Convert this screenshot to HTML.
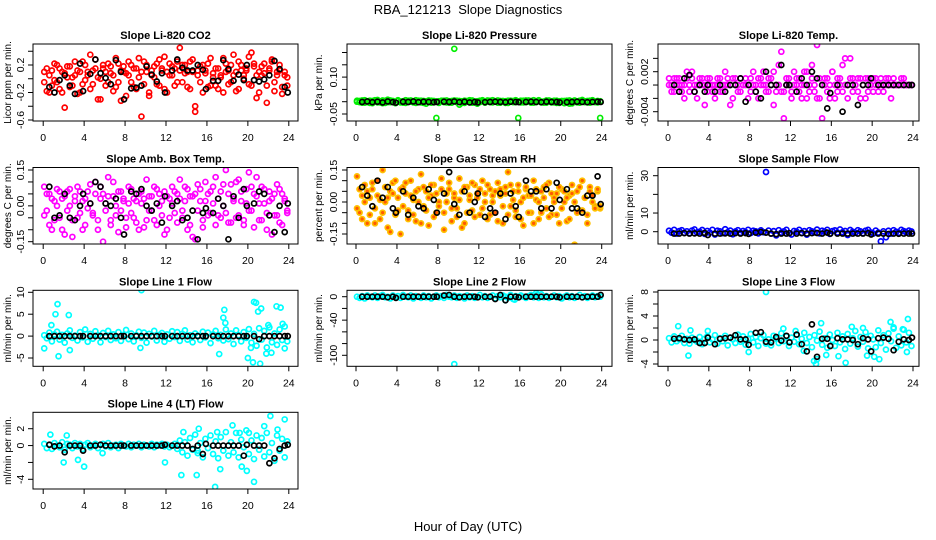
<!DOCTYPE html>
<html><head><meta charset="utf-8"><title>RBA_121213 Slope Diagnostics</title>
<style>
html,body{margin:0;padding:0;background:#fff;}
svg{display:block;font-family:"Liberation Sans",Arial,sans-serif;}
</style></head>
<body>
<svg id="chart" width="936" height="540" viewBox="0 0 936 540" xmlns="http://www.w3.org/2000/svg">
<text x="468" y="14" text-anchor="middle" font-size="13">RBA_121213&#160; Slope Diagnostics</text>
<text x="468" y="531" text-anchor="middle" font-size="13">Hour of Day (UTC)</text>
</svg>
<script>
// ---- shared sample hours ----
const hours = [0.1,0.35,0.6,0.85,1.1,1.35,1.6,1.85,2.1,2.35,2.6,2.85,3.1,3.35,3.6,3.85,4.1,4.35,4.6,4.85,5.1,5.35,5.6,5.85,6.1,6.35,6.6,6.85,7.1,7.35,7.6,7.85,8.1,8.35,8.6,8.85,9.1,9.35,9.6,9.85,10.1,10.35,10.6,10.85,11.1,11.35,11.6,11.85,12.1,12.35,12.6,12.85,13.1,13.35,13.6,13.85,14.1,14.35,14.6,14.85,15.1,15.35,15.6,15.85,16.1,16.35,16.6,16.85,17.1,17.35,17.6,17.85,18.1,18.35,18.6,18.85,19.1,19.35,19.6,19.85,20.1,20.35,20.6,20.85,21.1,21.35,21.6,21.85,22.1,22.35,22.6,22.85,23.1,23.35,23.6,23.85];
const blackHours = [0.6,1.1,1.6,2.1,2.6,3.1,3.6,3.9,4.6,5.1,5.6,6.1,6.6,7.1,7.6,7.9,8.6,9.1,9.6,10.1,10.6,11.1,11.6,11.9,12.6,13.1,13.6,14.1,14.6,15.1,15.6,15.9,16.6,17.1,17.6,18.1,18.6,19.1,19.6,19.9,20.6,21.1,21.6,22.1,22.6,23.1,23.6,23.9];
const xTicks = [0,4,8,12,16,20,24];

// ---- CO2 ----
const co2A = [0.1,-0.18,0.05,-0.1,0.22,-0.05,0.15,-0.2,0.08,0.18,-0.12,0.02,0.25,-0.22,0.1,-0.08,0.2,0.05,-0.15,0.12,0.28,-0.3,0.0,0.15,-0.1,0.22,0.08,-0.18,0.3,-0.05,0.12,0.18,-0.25,0.05,0.2,-0.12,0.15,0.02,-0.55,0.25,0.1,-0.2,0.05,0.18,-0.08,0.28,0.12,-0.15,0.1,0.22,0.05,0.15,-0.05,0.45,0.2,0.08,-0.12,0.25,0.1,-0.4,0.05,0.18,-0.2,0.12,0.22,-0.1,0.08,0.15,-0.15,0.02,0.3,0.1,-0.08,0.2,0.05,-0.18,0.25,0.12,0.0,0.15,0.32,-0.1,0.22,0.05,-0.2,0.18,0.08,-0.35,0.12,0.25,-0.05,0.1,0.2,-0.12,0.05,-0.1];
const co2B = [-0.05,0.15,-0.2,0.12,-0.02,0.2,-0.15,0.1,-0.42,0.02,0.18,-0.1,0.05,0.12,-0.2,0.25,-0.02,0.1,0.35,-0.08,0.15,0.02,-0.3,0.2,0.1,-0.05,0.18,0.05,-0.12,0.22,-0.32,0.1,0.08,0.25,-0.05,0.15,-0.15,0.3,0.1,-0.08,0.2,-0.25,0.12,0.02,0.22,-0.1,0.15,0.32,-0.2,0.05,0.18,-0.1,0.25,0.12,-0.05,0.2,0.1,-0.15,0.28,-0.48,0.12,-0.05,0.2,0.08,-0.12,0.3,0.02,-0.1,0.15,0.05,-0.2,0.22,0.12,-0.05,0.35,0.1,-0.15,0.2,0.05,0.12,-0.08,0.38,0.18,-0.28,0.1,0.05,0.22,-0.1,0.15,0.28,-0.18,0.05,0.12,-0.22,0.1,0.02];
const co2Black = [-0.12,-0.2,-0.02,0.05,-0.1,-0.22,0.22,-0.18,0.07,0.28,0.08,0.01,-0.08,0.27,0.1,-0.3,-0.14,-0.13,-0.1,0.18,0.06,-0.04,0.08,-0.2,0.12,0.28,0.16,0.12,0.12,0.2,0.13,-0.15,-0.03,-0.03,0.27,0.14,-0.03,0.06,-0.02,0.2,-0.02,-0.04,-0.01,0.05,0.26,0.14,-0.12,-0.2];
const co2Ticks = [-0.6,-0.4,-0.2,0,0.2,0.4];
const co2Labels = ["-0.6","","-0.2","","0.2",""];

// ---- Pressure ----
const presA = [0.0,0.003,-0.004,0.006,-0.002,0.004,-0.006,0.002,0.007,-0.003,0.005,-0.005,0.008,-0.002,0.003,-0.006,0.004,0.001,-0.004,0.006,-0.002,0.005,0.002,-0.005,0.004,-0.003,0.003,-0.008,0.002,0.004,-0.003,-0.066,0.002,0.004,-0.002,0.005,-0.004,0.003,0.215,0.004,-0.012,0.002,-0.005,0.003,0.006,-0.004,0.001,-0.008,0.004,0.002,-0.003,0.005,-0.002,0.006,0.001,-0.004,0.003,0.002,-0.005,0.004,0.0,0.003,-0.002,-0.066,0.004,-0.003,0.005,0.001,-0.004,0.006,-0.002,0.003,0.0,-0.004,0.005,0.002,-0.003,0.004,-0.005,0.002,0.003,-0.006,0.004,-0.008,0.002,0.005,-0.003,0.004,0.007,-0.002,0.003,-0.004,0.005,0.001,-0.003,-0.066];
const presB = [0.004,-0.002,0.005,-0.004,0.002,-0.005,0.003,0.006,-0.003,0.001,-0.006,0.004,-0.002,0.005,0.002,-0.004,0.006,-0.003,0.002,-0.005,0.004,0.0,-0.003,0.006,-0.002,0.004,-0.005,0.002,0.005,-0.004,0.003,0.001,-0.005,0.003,0.004,-0.003,0.002,-0.004,0.005,-0.002,0.003,-0.005,0.004,0.001,-0.003,0.005,-0.004,0.002,-0.002,0.006,-0.004,0.001,0.004,-0.003,0.002,0.005,-0.004,0.003,0.002,-0.005,0.004,-0.002,0.006,0.001,-0.003,0.004,-0.002,0.005,0.003,-0.004,0.002,0.006,-0.003,0.001,-0.004,0.005,0.002,-0.003,0.004,-0.005,0.002,0.003,-0.004,0.005,-0.007,0.003,0.001,-0.004,0.005,0.002,-0.003,0.004,0.006,-0.002,0.003,0.002];
const presBlack = [-0.001,0.001,-0.002,0.0,-0.003,0.001,-0.002,-0.004,0.0,-0.001,0.001,-0.002,0.0,-0.001,-0.002,-0.001,0.0,-0.001,0.001,-0.002,0.0,-0.003,-0.001,-0.003,-0.002,-0.001,0.0,-0.001,-0.002,0.0,-0.001,-0.002,-0.001,0.0,-0.001,-0.002,0.0,-0.001,-0.001,-0.003,-0.002,-0.001,0.0,-0.001,-0.002,-0.001,0.0,-0.001];
const presTicks = [-0.05,0,0.05,0.10,0.15,0.20];
const presLabels = ["-0.05","","","0.10","",""];

// ---- Temp ----
const tempA = [0.001,0,-0.001,0.001,0,0,-0.002,0.001,0,0.002,-0.001,0,0.001,0,-0.003,0.001,0,-0.001,0,0.001,-0.001,0,0.002,0,-0.003,0.001,0,-0.001,0.001,0,0,-0.002,0.001,0,-0.001,0.001,0,0.002,0,-0.001,0.001,-0.003,0,0.003,-0.001,-0.005,0.001,0,-0.001,0.002,0,0.001,-0.002,0,0.002,-0.001,0.003,0,-0.002,0.001,-0.005,0,0.001,-0.002,0.002,0,-0.001,0.001,0.003,0,-0.002,0.004,0.001,0,-0.001,0.001,0,-0.002,0.001,0,-0.001,0.001,0,0.001,-0.001,0,0.001,-0.002,0,0,0,0.001,0,0,0,0];
const tempB = [0,-0.001,0.001,0,0.001,-0.001,0,0.002,-0.001,0.001,0,-0.002,0,0.001,0,-0.001,0.001,0,-0.002,0,0.001,-0.001,0,0.001,0,-0.002,0.001,0,-0.001,0,0.001,0,-0.001,0.002,0,-0.002,0.001,0,-0.001,0.001,0,0.002,-0.001,0,0.005,-0.001,0,0.001,-0.002,0,0.001,-0.001,0,0.002,-0.002,0,0.001,-0.001,0.006,-0.002,0,0.001,-0.001,0,0.002,-0.002,0.001,0,-0.001,0.004,0,0.001,-0.001,0,0.001,-0.002,0,0.001,-0.001,0,0.001,0,-0.001,0,0,0.001,0,0,0.001,0,0,0,0.001,0,0,0];
const tempBlack = [0,-0.001,0.001,0.0015,-0.001,0,-0.001,0,-0.001,0,-0.001,0,0,0.001,-0.0025,0,-0.001,-0.002,0.002,0,0,0.003,0,0,-0.001,0.001,0,0.002,0.001,0,-0.0035,-0.0012,0,-0.004,0,0,-0.003,0,0,0.001,0,0,0,0,0,0,0,0];
const tempTicks = [-0.004,-0.002,0,0.002,0.004];
const tempLabels = ["-0.004","","","0.002",""];

// ---- Amb box temp ----
const ambA = [0.08,-0.02,0.05,-0.1,0.02,0.07,-0.05,0.03,-0.12,0.06,0.0,-0.06,0.04,0.08,-0.03,0.02,-0.08,0.06,0.01,-0.04,0.1,-0.1,0.03,0.05,-0.02,0.12,-0.06,0.04,0.0,-0.11,0.06,0.02,-0.05,0.08,-0.03,0.03,-0.07,0.05,0.01,-0.09,0.11,-0.02,0.04,-0.06,0.07,0.0,-0.04,0.06,-0.1,0.03,0.08,-0.03,0.05,0.11,-0.05,0.02,0.07,-0.08,0.04,-0.14,0.09,0.02,-0.06,0.1,0.05,-0.03,0.08,0.12,-0.04,0.06,0.0,0.15,-0.07,0.09,0.03,-0.05,0.11,0.02,-0.08,0.07,0.14,-0.02,0.05,0.12,-0.06,0.08,0.01,-0.1,0.06,0.03,-0.04,0.09,-0.07,0.05,0.02,-0.03];
const ambB = [-0.04,0.05,-0.08,0.03,-0.06,0.0,0.06,-0.1,0.04,-0.02,0.07,-0.13,0.02,-0.05,0.06,-0.1,0.03,-0.01,0.09,-0.03,0.05,-0.06,0.08,-0.15,0.01,0.04,-0.08,0.1,-0.04,0.06,-0.02,0.03,-0.09,0.01,0.07,-0.05,0.02,-0.1,0.06,0.03,-0.06,0.04,-0.02,0.08,-0.08,0.05,0.02,-0.12,0.04,-0.05,0.01,0.06,-0.07,0.03,-0.02,0.08,-0.1,0.04,-0.13,0.05,-0.02,0.07,-0.09,0.02,-0.04,0.06,0.01,-0.08,0.03,-0.05,0.09,-0.03,0.05,-0.07,0.02,0.1,-0.04,0.06,-0.06,0.01,-0.02,0.08,-0.09,0.04,0.01,-0.06,0.07,-0.03,0.02,-0.12,0.05,-0.04,0.07,-0.08,0.03,-0.02];
const ambBlack = [0.08,-0.05,-0.04,0.05,-0.05,-0.06,0.0,0.05,0.01,0.1,0.08,0.01,0.0,0.03,-0.05,-0.12,0.06,0.05,0.07,0.0,-0.02,0.01,-0.07,0.04,0.0,0.02,-0.06,-0.05,-0.02,-0.14,-0.03,-0.01,-0.03,0.03,0.0,-0.14,0.04,-0.05,0.07,0.0,0.01,0.06,0.05,-0.04,-0.11,0.0,-0.11,0.01];
const ambTicks = [-0.15,-0.10,-0.05,0,0.05,0.10,0.15];
const ambLabels = ["-0.15","","","0.00","","","0.15"];

// ---- Gas stream RH ----
const rhA = [0.12,-0.05,0.03,0.08,-0.1,0.02,0.06,-0.03,0.1,-0.08,0.15,0.0,-0.12,0.05,0.09,-0.06,0.02,-0.15,0.07,0.04,-0.04,0.1,0.01,-0.09,0.06,0.13,-0.02,0.05,-0.11,0.03,0.08,-0.05,0.0,0.06,-0.13,0.04,0.09,-0.03,0.02,-0.07,0.11,0.05,-0.1,0.07,0.01,-0.04,0.08,0.02,-0.06,0.1,0.04,-0.08,0.06,0.0,-0.05,0.09,0.03,-0.1,0.07,0.14,-0.02,0.05,-0.07,0.08,0.0,-0.11,0.06,0.03,-0.05,0.1,0.01,-0.08,0.05,0.07,-0.03,0.09,-0.06,0.02,0.04,-0.1,0.06,0.0,-0.09,0.03,0.08,-0.2,0.05,-0.04,0.1,0.02,-0.06,0.07,0.03,-0.02,0.05,-0.03];
const rhB = [-0.03,0.06,-0.08,0.0,0.05,-0.06,0.09,-0.1,0.03,0.01,-0.05,0.07,0.02,-0.14,0.04,0.1,-0.04,0.06,-0.02,0.09,-0.08,0.03,-0.06,0.05,0.0,-0.1,0.07,-0.04,0.02,0.08,-0.07,0.04,-0.02,0.11,-0.05,0.0,0.06,-0.09,0.04,-0.03,0.01,-0.12,0.07,-0.05,0.03,0.09,-0.07,0.04,0.06,-0.03,0.0,0.08,-0.06,0.03,0.05,-0.09,0.06,-0.02,0.04,-0.06,0.08,0.01,-0.04,0.05,-0.08,0.02,0.07,-0.05,0.03,-0.1,0.06,0.0,-0.05,0.02,0.08,-0.07,0.04,0.0,-0.06,0.07,-0.03,0.05,0.02,-0.08,0.04,0.0,-0.05,0.07,-0.04,0.02,-0.1,0.05,0.0,-0.03,0.06,-0.02];
const rhBlack = [0.07,0.03,-0.02,0.1,0.02,0.07,-0.03,-0.05,0.05,-0.06,0.02,-0.02,-0.03,0.06,0.01,-0.05,0.04,0.14,-0.01,-0.06,0.05,-0.05,0.0,0.04,-0.07,-0.03,-0.05,0.04,-0.08,0.04,-0.02,-0.07,0.1,0.05,0.05,-0.03,0.06,-0.03,0.09,0.01,0.06,-0.03,-0.03,-0.05,0.03,0.03,0.12,-0.01];
const rhTicks = [-0.15,-0.10,-0.05,0,0.05,0.10,0.15];
const rhLabels = ["-0.15","","","0.00","","","0.15"];

// ---- Sample flow ----
const sampleA = [0.5,-0.5,1.0,-1.0,0.3,0.8,-0.6,0.2,-0.8,0.6,1.2,-0.4,0.0,0.9,-1.2,0.4,-0.5,1.0,-1.5,0.5,0.2,-0.8,1.3,-0.3,0.6,-1.4,0.1,0.8,-0.6,0.4,-0.2,1.0,-0.7,0.5,0.2,-0.9,0.7,-0.3,32,0.6,-1.0,0.3,-2.0,0.8,-0.5,0.2,1.0,-0.8,-1.5,0.4,0.0,1.0,-0.6,0.3,-1.6,0.8,0.2,-0.4,1.1,-0.9,0.5,0.0,1.0,-1.2,0.3,0.7,-0.5,1.2,-0.3,0.4,-1.8,0.9,0.0,-0.6,0.8,0.2,-0.8,0.5,1.0,-0.4,-1.0,0.6,-0.5,-5.2,0.2,-3.0,0.5,-1.0,0.8,0.0,-0.6,1.0,0.3,-0.4,0.6,0.1];
const sampleBlack = [-1,-1,-0.8,-1,-0.9,-1,-0.7,-1.8,-1,-1,-0.9,-1,-0.8,-1,-0.8,-1.2,-0.5,-0.2,-0.5,-1.0,-1.3,-1,-1,-0.8,-1,-0.8,-1,-0.8,-0.7,-1,-0.5,-1,-1,-1,-1,-1,-1,-1,-0.8,-1.5,-1,-1,-1.2,-1,-1.1,-1,-1,-1];
const sampleTicks = [0,10,20,30];
const sampleLabels = ["0","10","","30"];

// ---- Line 1 flow ----
const line1A = [0.2,-0.5,0.8,-1.2,0.4,1.0,-0.8,0.3,-1.5,0.6,1.3,-0.4,0.1,-1.0,0.9,-0.3,1.5,-1.3,0.5,-0.6,1.1,0.2,-1.4,0.7,-0.2,1.2,-0.9,0.4,-0.5,0.9,-1.1,0.3,1.4,-0.7,0.6,-1.2,0.2,1.0,-0.4,0.8,-1.5,0.5,-0.1,1.2,-1.0,0.3,0.7,-1.3,0.4,-0.6,1.1,-0.2,0.9,-1.1,0.5,1.3,-0.8,0.2,-1.4,0.6,0.1,-0.9,1.0,-0.3,0.8,-1.6,0.4,1.2,-0.5,0.3,-1.0,1.5,-0.7,0.6,-1.8,1.3,0.2,-1.2,0.9,-0.4,1.6,-1.5,0.5,-2.2,1.8,-0.8,1.2,-2.6,2.0,-1.4,0.6,-2.0,1.5,-0.9,2.2,-1.2];
const line1OutHours = [0.1,0.8,1.2,1.4,1.5,2.5,2.6,9.5,9.6,17.2,17.6,17.7,17.8,20.0,20.3,20.5,20.6,20.8,21.0,21.2,21.3,22.0,22.8,23.2,23.4,23.6,21.8,22.3];
const line1OutVals = [-2.8,2.5,5,7.3,-4.6,4.8,-3.2,-2.7,10.5,-4.1,4.2,6,3,-5,-2.7,-6,7.8,7.6,5.6,-6.3,6.3,2.5,6.8,6.5,2.8,-2.8,-4,-3.8];
const line1Black = [0,0,0,0,0,0,0,0,0,0,0,0,0,0,0,0,0,0,0,0,0,0,0,0,0,0,0,0,0,0,0,0,0,0,0,0,0,0,0,0,0,-0.7,0,0,0,0,0,0];
const line1Ticks = [-5,0,5,10];
const line1Labels = ["-5","0","5","10"];

// ---- Line 2 flow ----
const line2A = [0,-2,1,-3,2,0,-1,2,-2,1,3,-1,0,-3,2,-1,1,-2,3,0,-1,2,-3,1,0,-2,2,-1,1,-3,0,2,-1,1,-2,3,0,-1,2,-2,1,0,-3,2,-1,1,-2,0,3,-1,1,-2,0,2,-3,1,-1,2,0,-2,3,-4,1,-1,2,0,-2,1,3,-1,0,-2,4,-1,1,-2,0,2,-1,1,-3,0,2,-1,1,-2,0,3,-1,1,-2,0,2,-1,1,0];
const line2OutHours = [9.6,17.6,17.7,14.6,15.5];
const line2OutVals = [-115,6,3,-6,-5];
const line2Black = [0,0,0,0,0,-1,0,-2,0,0,0,0,0,0,0,0,2,3,0,-1,0,0,0,-1,0,0,-4,3,-6,0,0,-1,0,0,0,0,0,0,0,-1,0,0,0,-1,0,0,0,3];
const line2Ticks = [-100,-80,-60,-40,-20,0];
const line2Labels = ["-100","","","-40","","0"];

// ---- Line 3 flow ----
const line3A = [0.3,-0.4,0.6,-0.2,0.1,0.7,-0.5,0.2,-0.6,0.4,0.0,-0.3,0.5,-0.7,0.2,0.6,-0.4,0.1,0.8,-0.6,0.3,-0.2,0.7,-0.9,0.4,0.1,-0.5,0.9,-0.3,0.6,-0.8,0.2,1.0,-0.4,0.5,-1.0,0.3,0.8,-0.6,0.1,-0.9,0.7,0.2,-0.5,1.1,-0.2,0.6,-1.0,0.4,-0.3,0.9,-0.7,0.2,1.2,-0.5,0.5,-1.2,0.8,-0.1,1.4,-0.8,0.3,-1.3,0.9,0.0,-1.0,1.2,-0.4,0.6,-1.5,1.0,-0.6,0.3,1.5,-1.1,0.5,-0.3,1.3,-1.4,0.7,0.1,-1.2,1.6,-0.5,0.8,-1.6,1.1,-0.2,1.9,-1.3,0.6,-0.9,1.7,-0.4,1.2,-1.0];
const line3OutHours = [1.0,2.0,2.2,7.9,9.6,11.3,13.3,14.3,14.5,14.6,15.0,15.5,16.7,17.4,18.0,19.1,19.5,20.2,20.7,21.8,22.1,23.0,23.4,23.5,3.9,12.5];
const line3OutVals = [2.3,-2.6,1.6,-2.0,8,1.9,-1.8,-3.5,-4.0,-3.2,2.8,-2.5,-2.7,-3.8,2.2,2.0,-2.6,-2.8,-3.2,3.0,2.1,1.8,-2.0,3.5,1.5,1.5];
const line3Black = [0.2,0.3,0.1,0.0,0.1,-0.5,-0.5,0.4,-0.7,0.2,0.3,0.4,0.8,0.1,0.1,-0.8,1.2,1.3,-0.3,-0.4,0.5,-0.1,0.7,-0.4,0.9,-0.7,-1.9,2.6,-2.8,0.2,0.2,-1.0,0.3,0.1,0.1,0.0,-0.7,0.3,0.1,-1.9,0.3,0.4,0.2,-1.7,-0.3,0.1,0.0,0.4];
const line3Ticks = [-4,-2,0,2,4,6,8];
const line3Labels = ["-4","","0","","4","","8"];

// ---- Line 4 (LT) flow ----
const line4A = [0.2,-0.3,0.1,-0.4,0.3,0.0,-0.2,0.4,-0.5,0.2,0.1,-0.3,0.3,-0.1,0.2,-0.4,0.1,0.3,-0.2,0.0,0.2,-0.3,0.1,0.2,-0.1,0.3,-0.2,0.0,0.1,-0.3,0.2,0.0,-0.1,0.2,-0.2,0.1,0.0,0.2,-0.2,0.1,0.0,-0.1,0.2,-0.2,0.1,0.0,0.2,-0.1,0.1,-0.2,0.0,0.2,-0.4,0.6,-0.8,0.4,-1.2,0.9,-0.5,1.3,-0.9,0.3,-1.4,0.8,-0.3,1.2,-1.0,0.5,-1.5,1.0,-0.6,1.6,-1.2,0.4,-0.8,1.5,-1.4,0.7,-0.2,1.8,-1.0,0.6,-1.6,1.2,-0.5,0.9,-1.3,1.5,-0.8,0.3,-1.8,1.2,-0.6,0.8,-1.4,0.5];
const line4OutHours = [0.7,2.0,2.3,3.4,4.0,5.8,11.9,13.5,13.7,15.0,15.2,16.8,17.3,17.0,18.5,19.4,19.9,20.6,21.6,22.2,22.9,23.6,15.1,19.2,20.1];
const line4OutVals = [1.3,-2.0,1.2,-1.7,-2.5,-0.9,-2.0,-3.5,1.6,-3.5,2.0,-4.9,-2.8,1.6,2.4,-2.5,-3.0,-4.3,2.3,3.5,1.9,3.1,-0.6,1.5,1.5];
const line4Black = [0.1,-0.1,0,-0.8,0,0,0,-0.6,0,0,0.1,0,0,0,0,0,0,0,0,0,0,0,0,0.1,0,0,0,0,-0.4,0,-1.0,0.2,0,0,0,0,0,0,-1.2,0.1,0,0,0,-2.1,-1.5,-0.4,0,0.1];
const line4Ticks = [-4,-2,0,2];
const line4Labels = ["-4","","0","2"];

// ---------- layout ----------
const NS = "http://www.w3.org/2000/svg";
const svg = document.getElementById("chart");
const COLS = [
  {left:33, right:298, h0:43.2, h24:288.8, tickLab:24, yLab:11},
  {left:347, right:612, h0:356, h24:601.7, tickLab:337, yLab:322},
  {left:658, right:919, h0:668, h24:913, tickLab:648, yLab:633}
];
const ROWS = [{top:44,bottom:121},{top:167.5,bottom:244},{top:290.3,bottom:366.3},{top:412.3,bottom:489}];

function el(tag, attrs, parent) {
  const e = document.createElementNS(NS, tag);
  for (const k in attrs) e.setAttribute(k, attrs[k]);
  (parent || svg).appendChild(e);
  return e;
}

function drawPanel(p) {
  const c = COLS[p.col], r = ROWS[p.row];
  const g = el("g", {});
  
  
  const xs = h => c.h0 + (h / 24) * (c.h24 - c.h0);
  const ys = v => p.ya[1] + (v - p.ya[0]) * (p.yb[1] - p.ya[1]) / (p.yb[0] - p.ya[0]);
  const clip = "clip-" + p.name;
  const cp = el("clipPath", {id: clip}, g);
  el("rect", {x: c.left, y: r.top, width: c.right - c.left, height: r.bottom - r.top}, cp);

  const title = el("text", {x: (c.left + c.right) / 2, y: r.top - 5, "text-anchor": "middle", "font-size": "11", "font-weight": "bold"}, g);
  title.textContent = p.title;
  
  

  const yl = el("text", {transform: "translate(" + c.yLab + "," + ((r.top + r.bottom) / 2) + ") rotate(-90)", "text-anchor": "middle", "font-size": "10"}, g);
  yl.textContent = p.ylabel;
  
  

  p.yTicks.forEach((t, i) => {
    const y = ys(t);
    const tk = el("line", {x1: c.left - 5, x2: c.left, y1: y, y2: y, stroke: "#000", "stroke-width": "1"}, g);
    
    
    if (p.yLabels[i]) {
      const tl = el("text", {transform: "translate(" + c.tickLab + "," + y + ") rotate(-90)", "text-anchor": "middle", "font-size": "10.5"}, g);
      tl.textContent = p.yLabels[i];
      
      
    }
  });
  const yAxis = el("line", {x1: c.left, x2: c.left, y1: ys(p.yTicks[0]), y2: ys(p.yTicks[p.yTicks.length - 1]), stroke: "#000"}, g);
  
  

  xTicks.forEach(t => {
    const x = xs(t);
    const tk = el("line", {x1: x, x2: x, y1: r.bottom, y2: r.bottom + 5, stroke: "#000"}, g);
    
    
    const tl = el("text", {x: x, y: r.bottom + 20, "text-anchor": "middle", "font-size": "10.5"}, g);
    tl.textContent = String(t);
    
    
  });

  const pts = el("g", {"clip-path": "url(#" + clip + ")"}, g);
  
  
  function dot(h, v, stroke, fill) {
    const d = el("circle", {cx: xs(h).toFixed(2), cy: ys(v).toFixed(2), r: 2.5, fill: fill || "none", stroke: stroke, "stroke-width": "1.7"}, pts);
    
    
  }
  p.series.forEach(s => {
    const n = Math.min(s.h.length, s.v.length);
    for (let i = 0; i < n; i++) dot(s.h[i], s.v[i], p.color, p.fill);
  });
  const nb = Math.min(blackHours.length, p.black.length);
  for (let i = 0; i < nb; i++) dot(blackHours[i], p.black[i], "#000", "none");

  const box = el("rect", {x: c.left, y: r.top, width: c.right - c.left, height: r.bottom - r.top, fill: "none", stroke: "#000", "stroke-width": "1"}, g);
  
  
}

const panels = [
  {name:"co2", title:"Slope Li-820 CO2", ylabel:"Licor ppm per min.", col:0,row:0, ya:[0.2,65], yb:[-0.2,92.5], yTicks:co2Ticks, yLabels:co2Labels, color:"#ff0000", series:[{h:hours,v:co2A},{h:hours,v:co2B}], black:co2Black},
  {name:"pressure", title:"Slope Li-820 Pressure", ylabel:"kPa per min.", col:1,row:0, ya:[0,101.7], yb:[-0.05,114], yTicks:presTicks, yLabels:presLabels, color:"#00ee00", series:[{h:hours,v:presA},{h:hours,v:presB}], black:presBlack},
  {name:"temp", title:"Slope Li-820 Temp.", ylabel:"degrees C per min.", col:2,row:0, ya:[0.002,71.7], yb:[-0.004,111.7], yTicks:tempTicks, yLabels:tempLabels, color:"#ff00ff", series:[{h:hours,v:tempA},{h:hours,v:tempB}], black:tempBlack},
  {name:"amb-box-temp", title:"Slope Amb. Box Temp.", ylabel:"degrees C per min.", col:0,row:1, ya:[0.15,170], yb:[-0.15,241.7], yTicks:ambTicks, yLabels:ambLabels, color:"#ff00ff", series:[{h:hours,v:ambA},{h:hours,v:ambB}], black:ambBlack},
  {name:"gas-stream-rh", title:"Slope Gas Stream RH", ylabel:"percent per min.", col:1,row:1, ya:[0.15,170], yb:[-0.15,234], yTicks:rhTicks, yLabels:rhLabels, color:"#ffc000", fill:"#ff5a00", series:[{h:hours,v:rhA},{h:hours,v:rhB}], black:rhBlack},
  {name:"sample-flow", title:"Slope Sample Flow", ylabel:"ml/min per min.", col:2,row:1, ya:[30,175.7], yb:[0,231.7], yTicks:sampleTicks, yLabels:sampleLabels, color:"#0000ff", series:[{h:hours,v:sampleA}], black:sampleBlack},
  {name:"line1-flow", title:"Slope Line 1 Flow", ylabel:"ml/min per min.", col:0,row:2, ya:[10,292.3], yb:[-5,358], yTicks:line1Ticks, yLabels:line1Labels, color:"#00ffff", series:[{h:hours,v:line1A},{h:line1OutHours,v:line1OutVals}], black:line1Black},
  {name:"line2-flow", title:"Slope Line 2 Flow", ylabel:"ml/min per min.", col:1,row:2, ya:[0,296.7], yb:[-100,355.3], yTicks:line2Ticks, yLabels:line2Labels, color:"#00ffff", series:[{h:hours,v:line2A},{h:line2OutHours,v:line2OutVals}], black:line2Black},
  {name:"line3-flow", title:"Slope Line 3 Flow", ylabel:"ml/min per min.", col:2,row:2, ya:[8,292], yb:[-4,364], yTicks:line3Ticks, yLabels:line3Labels, color:"#00ffff", series:[{h:hours,v:line3A},{h:line3OutHours,v:line3OutVals}], black:line3Black},
  {name:"line4-flow", title:"Slope Line 4 (LT) Flow", ylabel:"ml/min per min.", col:0,row:3, ya:[2,428.7], yb:[-4,479.3], yTicks:line4Ticks, yLabels:line4Labels, color:"#00ffff", series:[{h:hours,v:line4A},{h:line4OutHours,v:line4OutVals}], black:line4Black}
];
panels.forEach(drawPanel);
</script>
</body></html>
